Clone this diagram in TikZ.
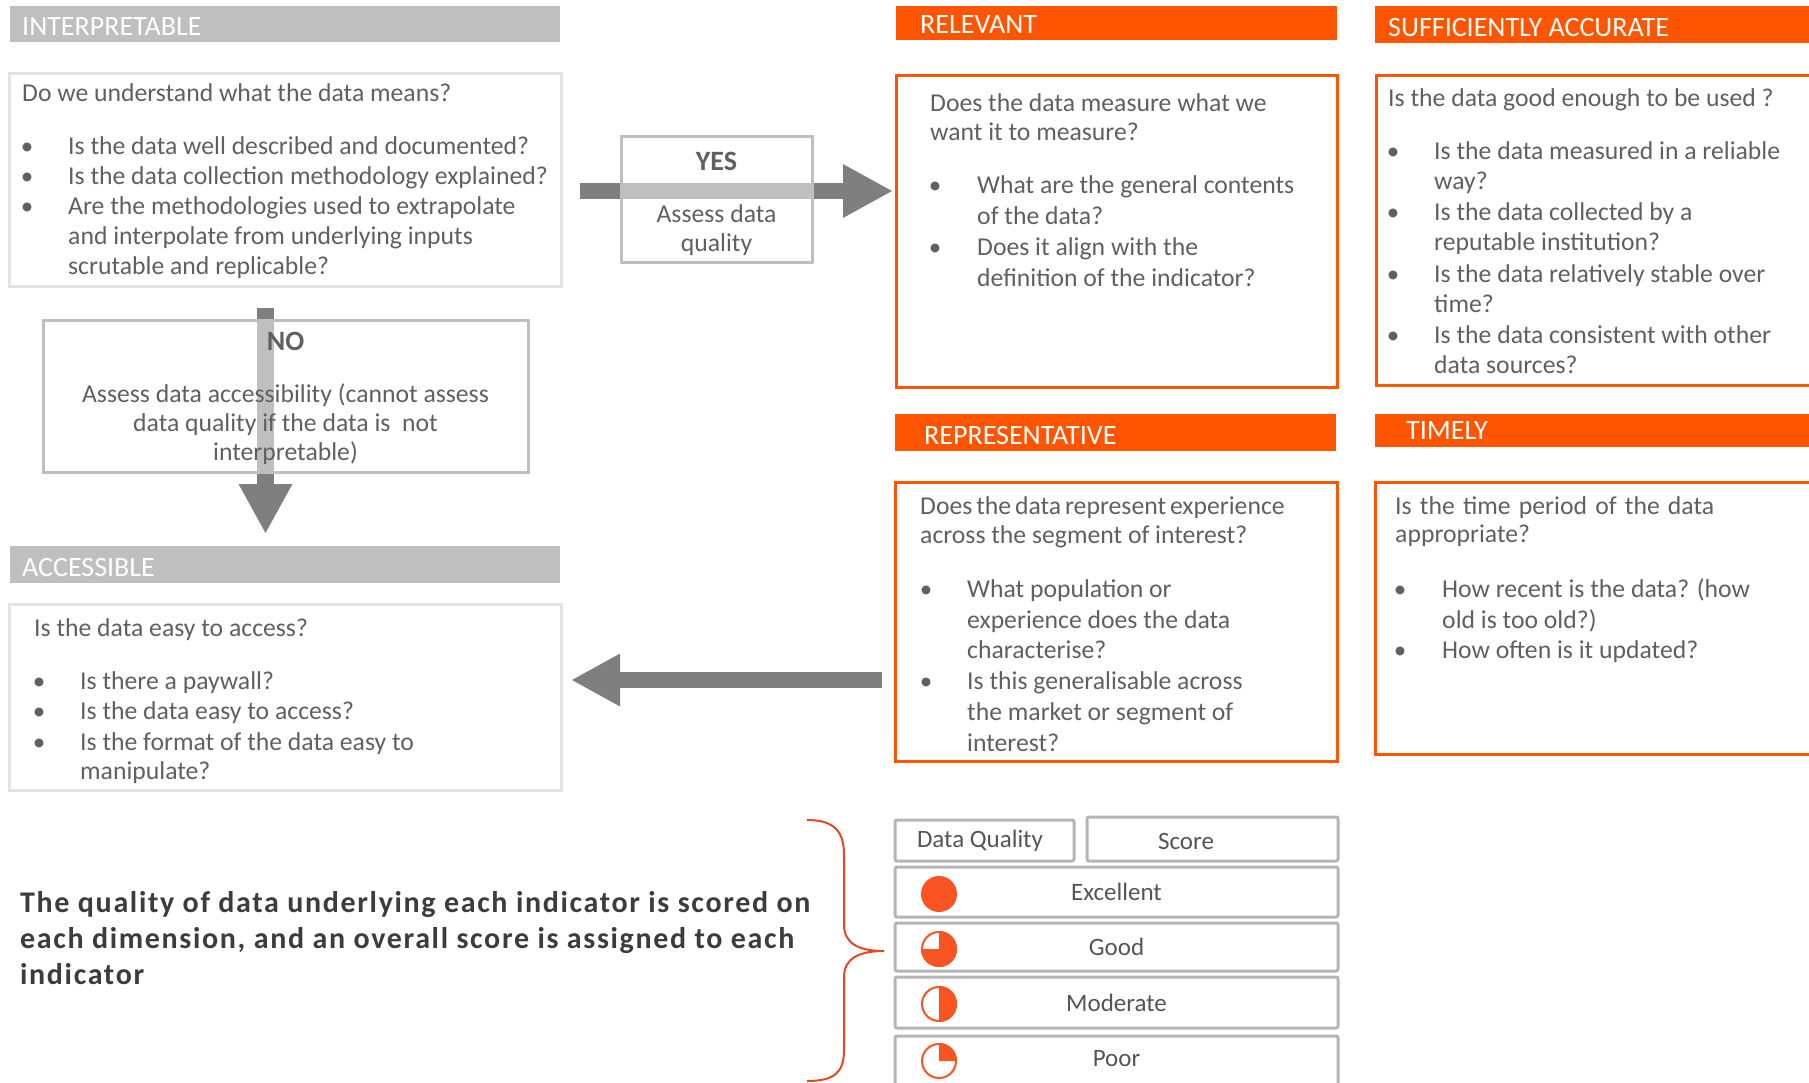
\documentclass[tikz,border=0pt]{standalone}
\usepackage{fontspec}
\setmainfont{Carlito}
\newfontfamily\boldls{Carlito}[LetterSpace=5.5]
\usetikzlibrary{arrows.meta,fit}
\definecolor{org}{HTML}{FF5500}
\definecolor{circ}{HTML}{F95422}
\definecolor{brc}{HTML}{E5471F}
\definecolor{txt}{HTML}{606060}
\definecolor{dtxt}{HTML}{3C3C3C}
\definecolor{ctxt}{HTML}{555555}
\definecolor{barg}{HTML}{BFBFBF}
\definecolor{arrg}{HTML}{7F7F7F}
\definecolor{boxg}{HTML}{E3E3E3}
\definecolor{cellg}{HTML}{B5B5B5}
\tikzset{
  bar/.style={fill=#1,draw=none,inner sep=0pt},
  obox/.style={draw=org,line width=3pt,inner sep=0pt},
  gbox/.style={draw=boxg,line width=3pt,inner sep=0pt},
  dbox/.style={draw=barg,line width=3pt,fill=white,fill opacity=0.5,inner sep=0pt},
  cell/.style={draw=cellg,line width=3pt,rounded corners=2pt,inner sep=0pt},
  ttl/.style={anchor=base west,inner sep=0pt,text=white,font=\fontsize{28}{30}\selectfont},
  ln/.style={anchor=base west,inner sep=0pt,text=txt,font=\fontsize{25.7}{30}\selectfont},
  lnc/.style={anchor=base,inner sep=0pt,text=txt,font=\fontsize{25.7}{30}\selectfont},
  lnb/.style={anchor=base,inner sep=0pt,text=txt,font=\fontsize{28}{30}\selectfont\bfseries},
  bl/.style={anchor=base,inner sep=0pt,text=txt,font=\fontsize{25}{30}\selectfont},
  bold/.style={anchor=base west,inner sep=0pt,text=dtxt,font=\fontsize{30}{36}\selectfont\boldls\bfseries},
  celltxt/.style={anchor=center,inner sep=0pt,text=ctxt,font=\fontsize{25}{30}\selectfont},
  bigarrow/.style={draw=arrg,line width=16.5pt,-{Triangle[length=50pt,width=50pt]}},
  brace/.style={draw=brc,line width=2pt}
}
\newcommand\Ln[4]{\node[ln] (#1) at (#2,#3) {#4};}
\newcommand\Bl[3]{\node[bl] (#1) at (#2,#3) {\textbullet};}
\newcommand\Mk[4]{\node[#1,fit={(#3) (#4)}] (#2) {};}
\begin{document}
\begin{tikzpicture}[x=1pt,y=-1pt]
\useasboundingbox (0,0) rectangle (1809,1082);
\fill[white] (0,0) rectangle (1809,1082);

% ---------- bars ----------
\Mk{bar=barg}{bInterp}{10,6}{560,42}
\Mk{bar=org}{bRel}{896,6}{1337,40}
\Mk{bar=org}{bSuff}{1375,6}{1830,43}
\Mk{bar=org}{bRep}{895,414}{1336,451}
\Mk{bar=org}{bTim}{1375,414}{1830,447}
\Mk{bar=barg}{bAcc}{10,546}{560,583}
\node[ttl] (tInterp) at (22,35) {INTERPRETABLE};
\node[ttl] (tRel) at (920,33) {RELEVANT};
\node[ttl] (tSuff) at (1388,36) {SUFFICIENTLY ACCURATE};
\node[ttl] (tRep) at (924,444) {REPRESENTATIVE};
\node[ttl] (tTim) at (1406,439) {TIMELY};
\node[ttl] (tAcc) at (22,576) {ACCESSIBLE};

% ---------- content boxes ----------
\Mk{gbox}{interp}{9,73}{561,286}
\Mk{gbox}{acc}{9,604}{561,790}
\Mk{obox}{rel}{896,75}{1337,387}
\Mk{obox}{suff}{1376,75}{1830,385}
\Mk{obox}{rep}{895,482}{1337,761}
\Mk{obox}{tim}{1375,482}{1830,754}

% ---------- block arrows ----------
\coordinate (yesA) at (580,191);
\coordinate (yesB) at (893,191);
\coordinate (noA) at (265.5,308);
\coordinate (noB) at (265.5,534);
\coordinate (accA) at (882,680);
\coordinate (accB) at (571,680);
\draw[bigarrow] (yesA) -- (yesB);
\draw[bigarrow] (noA) -- (noB);
\draw[bigarrow,line width=16pt,-{Triangle[length=49pt,width=49pt]}] (accA) -- (accB);

% ---------- decision boxes ----------
\Mk{dbox}{yes}{621,136}{812,262}
\Mk{dbox}{no}{43,320}{528,472}
\node[lnb] (yesT) at (716.5,170) {YES};
\node[lnc] (yes1) at (716.5,222) {Assess data};
\node[lnc] (yes2) at (716.5,251) {quality};
\node[lnb] (noT) at (285.5,350) {NO};
\node[lnc] (no1) at (285.5,402) {Assess data accessibility (cannot assess};
\node[lnc] (no2) at (285.5,431) {data quality if the data is\ \ not};
\node[lnc] (no3) at (285.5,460) {interpretable)};

% ---------- interpretable ----------
\Ln{i0}{22}{101}{Do we understand what the data means?}
\Bl{ib1}{27}{154}\Ln{i1}{68}{154}{Is the data well described and documented?}
\Bl{ib2}{27}{184}\Ln{i2}{68}{184}{Is the data collection methodology explained?}
\Bl{ib3}{27}{214}\Ln{i3}{68}{214}{Are the methodologies used to extrapolate}
\Ln{i4}{68}{244}{and interpolate from underlying inputs}
\Ln{i5}{68}{274}{scrutable and replicable?}

% ---------- accessible ----------
\Ln{a0}{34}{636}{Is the data easy to access?}
\Bl{ab1}{39}{689}\Ln{a1}{80}{689}{Is there a paywall?}
\Bl{ab2}{39}{719}\Ln{a2}{80}{719}{Is the data easy to access?}
\Bl{ab3}{39}{750}\Ln{a3}{80}{750}{Is the format of the data easy to}
\Ln{a4}{80}{779}{manipulate?}

% ---------- relevant ----------
\Ln{r0}{930}{111}{Does the data measure what we}
\Ln{r1}{930}{140}{want it to measure?}
\Bl{rb1}{935}{193}\Ln{r2}{977}{193}{What are the general contents}
\Ln{r3}{977}{224}{of the data?}
\Bl{rb2}{935}{255}\Ln{r4}{977}{255}{Does it align with the}
\Ln{r5}{977}{286}{definition of the indicator?}

% ---------- sufficiently accurate ----------
\Ln{s0}{1388}{106}{Is the data good enough to be used ?}
\Bl{sb1}{1393}{159}\Ln{s1}{1434}{159}{Is the data measured in a reliable}
\Ln{s2}{1434}{189}{way?}
\Bl{sb2}{1393}{220}\Ln{s3}{1434}{220}{Is the data collected by a}
\Ln{s4}{1434}{250}{reputable institution?}
\Bl{sb3}{1393}{282}\Ln{s5}{1434}{282}{Is the data relatively stable over}
\Ln{s6}{1434}{312}{time?}
\Bl{sb4}{1393}{343}\Ln{s7}{1434}{343}{Is the data consistent with other}
\Ln{s8}{1434}{373}{data sources?}

% ---------- representative ----------
\Ln{p0}{920}{514}{\makebox[363pt][s]{Does the data represent experience}}
\Ln{p1}{920}{543}{across the segment of interest?}
\Bl{pb1}{926}{597}\Ln{p2}{967}{597}{What population or}
\Ln{p3}{967}{628}{experience does the data}
\Ln{p4}{967}{658}{characterise?}
\Bl{pb2}{926}{689}\Ln{p5}{967}{689}{Is this generalisable across}
\Ln{p6}{967}{720}{the market or segment of}
\Ln{p7}{967}{751}{interest?}

% ---------- timely ----------
\Ln{m0}{1395}{514}{\makebox[319pt][s]{Is the time period of the data}}
\Ln{m1}{1395}{542}{appropriate?}
\Bl{mb1}{1400}{597}\Ln{m2}{1442}{597}{How recent is the data? (how}
\Ln{m3}{1442}{628}{old is too old?)}
\Bl{mb2}{1400}{658}\Ln{m4}{1442}{658}{How often is it updated?}

% ---------- summary text ----------
\node[bold] (q1) at (20,912) {The quality of data underlying each indicator is scored on};
\node[bold] (q2) at (20,948) {each dimension, and an overall score is assigned to each};
\node[bold] (q3) at (20,984) {indicator};

% ---------- brace ----------
\draw[brace] (807,820) .. controls (835,820) and (844,832) .. (844,855) -- (844,925)
  .. controls (844,943) and (858,951) .. (884,951)
  .. controls (858,951) and (844,959) .. (844,977) -- (844,1050)
  .. controls (844,1072) and (835,1081) .. (807,1081);

% ---------- score table ----------
\Mk{cell}{cDQ}{895,820}{1074,861}
\Mk{cell}{cSc}{1087,817}{1338,861}
\Mk{cell}{cEx}{895,867}{1338,917}
\Mk{cell}{cGd}{895,923}{1338,971}
\Mk{cell}{cMd}{895,977}{1338,1028}
\Mk{cell}{cPr}{895,1036}{1338,1100}
\node[celltxt] (tDQ) at (980,841) {Data Quality};
\node[celltxt] (tSc) at (1186,841) {Score};
\node[celltxt] (tEx) at (1116.5,892) {Excellent};
\node[celltxt] (tGd) at (1116.5,947) {Good};
\node[celltxt] (tMd) at (1116.5,1002.5) {Moderate};
\node[celltxt] (tPr) at (1116.5,1059) {Poor};

\coordinate (k1) at (939,894);
\coordinate (k2) at (939,949);
\coordinate (k3) at (939,1004);
\coordinate (k4) at (939,1061);
\fill[circ] (k1) circle[radius=18];
\draw[circ,line width=2pt] (k2) circle[radius=17];
\fill[circ] (k2) -- ++(-90:18) arc[start angle=-90,end angle=180,radius=18] -- cycle;
\draw[circ,line width=2pt] (k3) circle[radius=17];
\fill[circ] (k3) -- ++(-90:18) arc[start angle=-90,end angle=90,radius=18] -- cycle;
\draw[circ,line width=2pt] (k4) circle[radius=17];
\fill[circ] (k4) -- ++(-90:18) arc[start angle=-90,end angle=0,radius=18] -- cycle;
\end{tikzpicture}
\end{document}
